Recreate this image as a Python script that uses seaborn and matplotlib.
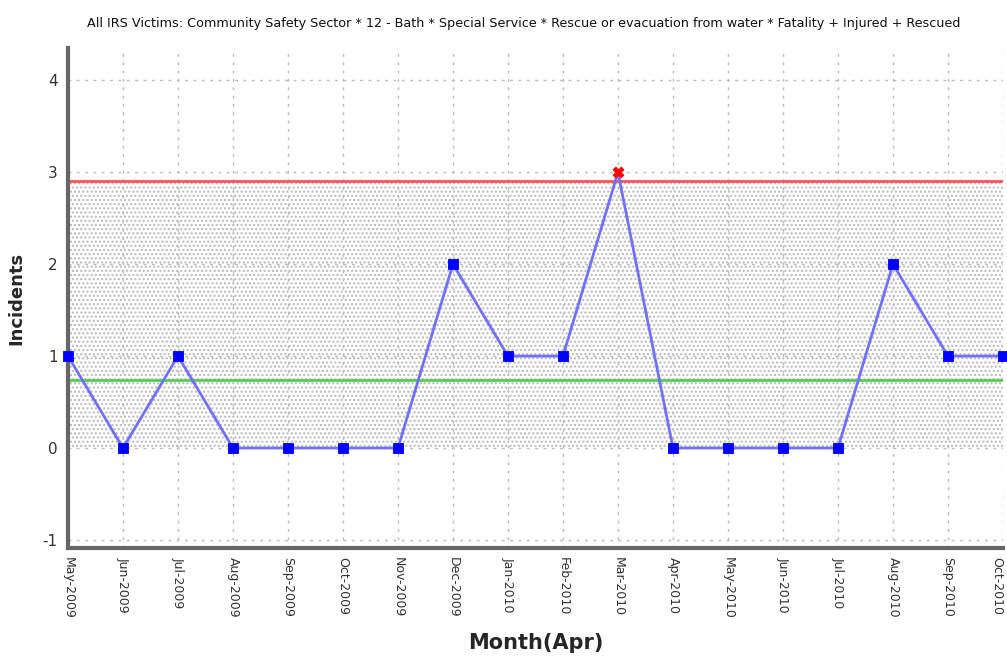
import numpy as np
import pandas as pd
import matplotlib
matplotlib.use("Agg")
import matplotlib.pyplot as plt
import seaborn as sns

months = ["May-2009", "Jun-2009", "Jul-2009", "Aug-2009", "Sep-2009", "Oct-2009",
          "Nov-2009", "Dec-2009", "Jan-2010", "Feb-2010", "Mar-2010", "Apr-2010",
          "May-2010", "Jun-2010", "Jul-2010", "Aug-2010", "Sep-2010", "Oct-2010"]
incidents = [1, 0, 1, 0, 0, 0, 0, 2, 1, 1, 3, 0, 0, 0, 0, 2, 1, 1]
ucl = 2.91
mean_line = 0.74
title = ("All IRS Victims: Community Safety Sector * 12 - Bath * Special Service * "
         "Rescue or evacuation from water * Fatality + Injured + Rescued")

df = pd.DataFrame({"pos": np.arange(len(months)), "month": months, "incidents": incidents})
df["out"] = df["incidents"] > ucl

sns.set_style("white")
plt.rcParams["font.family"] = ["DejaVu Sans"]
plt.rcParams["axes.unicode_minus"] = False
plt.rcParams["hatch.color"] = "#b8b8b8"

fig = plt.figure(figsize=(10.07, 6.69), dpi=100)
ax = fig.add_axes([0.0675, 0.181, 0.9285, 0.747])

# shaded band between 0 and the upper limit
ax.axhspan(0, ucl, facecolor="none", edgecolor="#b8b8b8", hatch="....", linewidth=0, zorder=0)

ax.axhline(ucl, color="#ff5555", lw=2, zorder=2)
ax.axhline(mean_line, color="#55cc55", lw=2, zorder=2)

sns.lineplot(data=df, x="pos", y="incidents", color="#7070ff", lw=2, ax=ax, zorder=3)
sns.scatterplot(data=df[~df["out"]], x="pos", y="incidents", marker="s", s=60,
                color="#0000ff", edgecolor="#0000ff", ax=ax, zorder=4, clip_on=False)
sns.scatterplot(data=df[df["out"]], x="pos", y="incidents", marker="X", s=60,
                color="#ff0000", edgecolor="#ff0000", ax=ax, zorder=5, clip_on=False)

ax.set_xlim(0, len(months) - 1)
ax.set_ylim(-1.087, 4.35)
ax.set_xticks(df["pos"])
ax.set_xticklabels(months, rotation=270, fontsize=9, color="#333333")
ax.get_xticklabels()[-1].set_horizontalalignment("right")
ax.set_yticks([-1, 0, 1, 2, 3, 4])
ax.set_yticks(np.arange(-1, 4.31, 0.2), minor=True)
ax.tick_params(axis="y", labelsize=11, colors="#333333", length=4, width=1.5, direction="out")
ax.tick_params(axis="y", which="minor", length=2, width=1, color="#777777")
ax.tick_params(axis="x", length=3, width=1.5, colors="#333333")
ax.grid(True, which="major", ls=(0, (2, 4)), color="#bbbbbb", lw=1)

for side in ["top", "right"]:
    ax.spines[side].set_visible(False)
for side in ["left", "bottom"]:
    ax.spines[side].set_color("#666666")
    ax.spines[side].set_linewidth(3)

ax.set_xlabel("Month(Apr)", fontsize=15, fontweight="bold", labelpad=10)
ax.set_ylabel("Incidents", fontsize=13, fontweight="bold", labelpad=12)
fig.text(0.52, 0.965, title, fontsize=9.2, ha="center", va="center", color="#111111")

fig.savefig("out.png", dpi=100)
